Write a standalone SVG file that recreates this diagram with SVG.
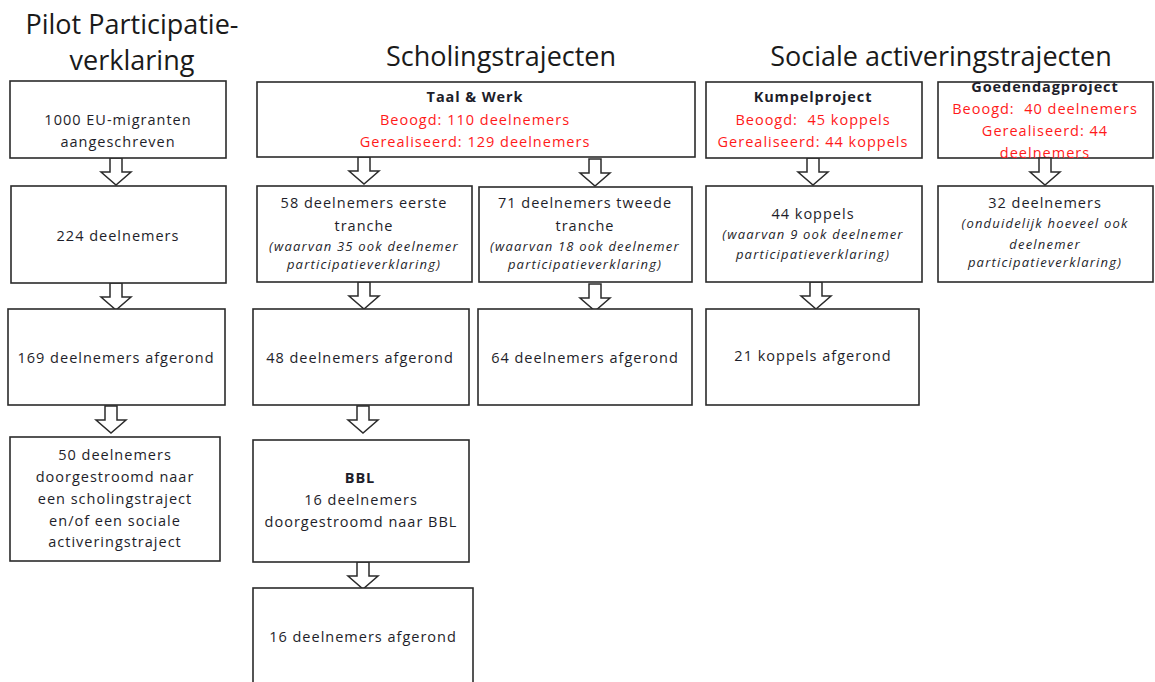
<svg xmlns="http://www.w3.org/2000/svg" xmlns:xlink="http://www.w3.org/1999/xlink" width="1155" height="682" viewBox="0 0 1155 682">
<style>
.box{fill:#fff;stroke:#2b2b2b;stroke-width:1.6}
.t{font-family:"Open Sans","Liberation Sans",sans-serif;font-size:14.5px;letter-spacing:1px;fill:#1e1e2a;text-anchor:middle}
.b{font-weight:bold;letter-spacing:0.9px}
.r{fill:#ff1a1a}
.i{font-style:italic;font-size:13px;letter-spacing:1.2px}
.h{font-family:"Open Sans","Liberation Sans",sans-serif;font-size:27px;fill:#1a1a1a;text-anchor:middle}
.arr{fill:#fff;stroke:#2b2b2b;stroke-width:1.5;stroke-linejoin:miter}
</style>
<defs>
<path id="arr" class="arr" d="M-6,0 L6,0 L6,14 L15,14 L0,27 L-15,14 L-6,14 Z"/>
</defs>
<rect width="1155" height="682" fill="#fff"/>
<g id="titles">
<text class="h" x="132" y="34">Pilot Participatie-</text>
<text class="h" x="132" y="70">verklaring</text>
<text class="h" x="501" y="66">Scholingstrajecten</text>
<text class="h" x="941" y="66">Sociale activeringstrajecten</text>
</g>
<g id="connectors">
<use href="#arr" x="116" y="158"/>
<use href="#arr" x="116" y="283"/>
<use href="#arr" x="111" y="406"/>
<use href="#arr" x="364" y="157"/>
<use href="#arr" x="595" y="159"/>
<use href="#arr" x="364" y="282"/>
<use href="#arr" x="595" y="284"/>
<use href="#arr" x="363" y="406"/>
<use href="#arr" x="363" y="562"/>
<use href="#arr" x="813" y="158"/>
<use href="#arr" x="816" y="282"/>
</g>
<g id="n1"><rect class="box" x="10" y="81" width="216" height="77"/>
<text class="t" x="118" y="125">1000 EU-migranten</text><text class="t" x="118" y="147">aangeschreven</text></g>
<g id="n2"><rect class="box" x="11" y="186" width="215" height="97"/>
<text class="t" x="118" y="241">224 deelnemers</text></g>
<g id="n3"><rect class="box" x="8" y="309" width="217" height="96"/>
<text class="t" x="116" y="363">169 deelnemers afgerond</text></g>
<g id="n4"><rect class="box" x="10" y="437" width="210" height="124"/>
<text class="t" x="115" y="460">50 deelnemers</text><text class="t" x="115" y="482">doorgestroomd naar</text><text class="t" x="115" y="504">een scholingstraject</text><text class="t" x="115" y="526">en/of een sociale</text><text class="t" x="115" y="547">activeringstraject</text></g>
<g id="n5"><rect class="box" x="257" y="82" width="438" height="75"/>
<text class="t b" x="475" y="102">Taal &amp; Werk</text><text class="t r" x="475" y="125">Beoogd: 110 deelnemers</text><text class="t r" x="475" y="147">Gerealiseerd: 129 deelnemers</text></g>
<g id="n6"><rect class="box" x="257" y="186" width="215" height="96"/>
<text class="t" x="364" y="208">58 deelnemers eerste</text><text class="t" x="364" y="231">tranche</text><text class="t i" x="364" y="251">(waarvan 35 ook deelnemer</text><text class="t i" x="364" y="269">participatieverklaring)</text></g>
<g id="n7"><rect class="box" x="479" y="187" width="213" height="95"/>
<text class="t" x="585" y="208">71 deelnemers tweede</text><text class="t" x="585" y="231">tranche</text><text class="t i" x="585" y="251">(waarvan 18 ook deelnemer</text><text class="t i" x="585" y="269">participatieverklaring)</text></g>
<g id="n8"><rect class="box" x="253" y="309" width="216" height="96"/>
<text class="t" x="360" y="363">48 deelnemers afgerond</text></g>
<g id="n9"><rect class="box" x="478" y="309" width="214" height="96"/>
<text class="t" x="585" y="363">64 deelnemers afgerond</text></g>
<g id="n10"><rect class="box" x="253" y="440" width="216" height="122"/>
<text class="t b" x="360" y="483">BBL</text><text class="t" x="361" y="505">16 deelnemers</text><text class="t" x="361" y="527">doorgestroomd naar BBL</text></g>
<g id="n11"><rect class="box" x="253" y="588" width="220" height="110"/>
<text class="t" x="363" y="642">16 deelnemers afgerond</text></g>
<g id="n12"><rect class="box" x="706" y="82" width="216" height="76"/>
<text class="t b" x="813" y="102">Kumpelproject</text><text class="t r" x="813" y="125" xml:space="preserve">Beoogd:  45 koppels</text><text class="t r" x="813" y="147">Gerealiseerd: 44 koppels</text></g>
<g id="n13"><rect class="box" x="706" y="186" width="216" height="96"/>
<text class="t" x="813" y="219">44 koppels</text><text class="t i" x="813" y="239">(waarvan 9 ook deelnemer</text><text class="t i" x="813" y="259">participatieverklaring)</text></g>
<g id="n14"><rect class="box" x="706" y="309" width="213" height="96"/>
<text class="t" x="813" y="361">21 koppels afgerond</text></g>
<g id="n15"><rect class="box" x="938" y="82" width="215" height="76"/>
<text class="t b" x="1045" y="92">Goedendagproject</text><text class="t r" x="1045" y="114" xml:space="preserve">Beoogd:  40 deelnemers</text><text class="t r" x="1045" y="136">Gerealiseerd: 44</text><text class="t r" x="1045" y="158">deelnemers</text></g>
<use href="#arr" x="1045" y="158"/>
<g id="n16"><rect class="box" x="938" y="186" width="215" height="96"/>
<text class="t" x="1045" y="208">32 deelnemers</text><text class="t i" x="1045" y="228">(onduidelijk hoeveel ook</text><text class="t i" x="1045" y="249">deelnemer</text><text class="t i" x="1045" y="267">participatieverklaring)</text></g>
</svg>
